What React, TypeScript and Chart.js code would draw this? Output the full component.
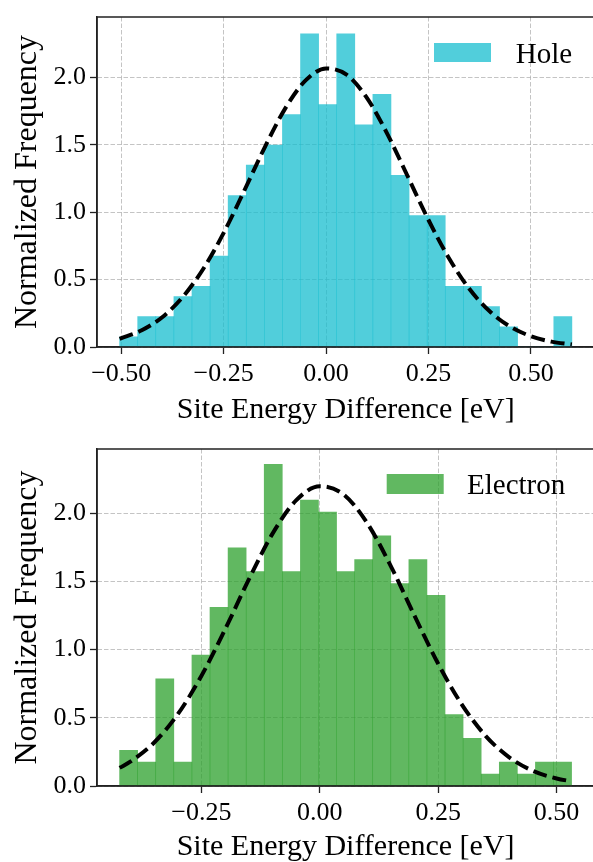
import React, { useEffect, useRef } from "react";
import { Chart, registerables } from "chart.js";

Chart.register(...registerables);

// ---------------- data ----------------
const HOLE_BIN_CENTERS = [
  -0.4819, -0.4378, -0.3936, -0.3494, -0.3053, -0.2611, -0.217, -0.1728, -0.1286, -0.0845,
  -0.0403, 0.0038, 0.048, 0.0922, 0.1363, 0.1805, 0.2246, 0.2688, 0.313, 0.3571,
  0.4013, 0.4454, 0.4896, 0.5338, 0.5779,
];
const HOLE_DENSITY = [
  0.075, 0.225, 0.225, 0.375, 0.45, 0.675, 1.125, 1.35, 1.5, 1.725,
  2.325, 1.8, 2.325, 1.65, 1.875, 1.275, 0.975, 0.975, 0.45, 0.45,
  0.3, 0.15, 0, 0, 0.225,
];
const HOLE_FIT_X = [
  -0.504, -0.45, -0.4, -0.35, -0.3, -0.25, -0.2, -0.15, -0.1, -0.05, 0, 0.05,
  0.1, 0.15, 0.2, 0.25, 0.3, 0.35, 0.4, 0.45, 0.5, 0.55, 0.6,
];
const HOLE_FIT_Y = [
  0.061, 0.124, 0.221, 0.371, 0.579, 0.847, 1.159, 1.481, 1.77, 1.979, 2.068, 2.022,
  1.848, 1.579, 1.262, 0.943, 0.659, 0.43, 0.263, 0.15, 0.08, 0.04, 0.019,
];

const ELECTRON_BIN_CENTERS = [
  -0.4035, -0.3654, -0.3272, -0.289, -0.2508, -0.2127, -0.1745, -0.1363, -0.0982, -0.06,
  -0.0218, 0.0164, 0.0545, 0.0927, 0.1309, 0.169, 0.2072, 0.2454, 0.2835, 0.3217,
  0.3599, 0.3981, 0.4362, 0.4744, 0.5126,
];
const ELECTRON_DENSITY = [
  0.262, 0.175, 0.786, 0.175, 0.96, 1.31, 1.746, 1.571, 2.357, 1.571,
  2.095, 2.008, 1.571, 1.659, 1.833, 1.484, 1.659, 1.397, 0.524, 0.349,
  0.087, 0.175, 0.087, 0.175, 0.175,
];
const ELECTRON_FIT_X = [
  -0.4226, -0.4, -0.35, -0.3, -0.25, -0.2, -0.15, -0.1, -0.05, 0, 0.05,
  0.1, 0.15, 0.2, 0.25, 0.3, 0.35, 0.4, 0.45, 0.5, 0.5317,
];
const ELECTRON_FIT_Y = [
  0.133, 0.178, 0.317, 0.525, 0.806, 1.147, 1.512, 1.848, 2.093, 2.197, 2.138,
  1.928, 1.612, 1.248, 0.896, 0.597, 0.368, 0.21, 0.111, 0.055, 0.034,
];

const HOLE_X_TICKS = [-0.5, -0.25, 0, 0.25, 0.5];
const ELECTRON_X_TICKS = [-0.25, 0, 0.25, 0.5];
const Y_TICKS = [0, 0.5, 1.0, 1.5, 2.0];

const HOLE_X_RANGE = [-0.5592, 0.6552];
const ELECTRON_X_RANGE = [-0.4703, 0.5794];
const HOLE_Y_MAX = 2.45;
const ELECTRON_Y_MAX = 2.47;

const X_TITLE = "Site Energy Difference [eV]";
const Y_TITLE = "Normalized Frequency";

// ---------------- styles ----------------
const SERIF = '"Liberation Serif", "Times New Roman", Times, serif';
const INK = "#222222";
const GRID = "rgba(176,176,176,0.75)";
const CANVAS_W = 600;
const CANVAS_H = 431;

function fmtTick(v: number, digits: number) {
  const s = Math.abs(v).toFixed(digits);
  return v < -1e-9 ? "\u2212" + s : s;
}

const framePlugin = {
  id: "frame",
  afterDatasetsDraw(chart: any) {
    const { ctx, chartArea } = chart;
    ctx.save();
    ctx.strokeStyle = INK;
    ctx.lineWidth = 1.5;
    ctx.strokeRect(chartArea.left, chartArea.top, chartArea.right - chartArea.left, chartArea.bottom - chartArea.top);
    ctx.restore();
  },
};

const histLegendPlugin = {
  id: "histLegend",
  afterDraw(chart: any, _args: any, opts: any) {
    const { ctx, chartArea } = chart;
    const ds = chart.data.datasets.find((d: any) => d.type === "bar");
    if (!ds) return;
    ctx.save();
    const rx = chartArea.right - opts.rectFromRight;
    const ry = chartArea.top + opts.rectFromTop;
    ctx.fillStyle = ds.backgroundColor;
    ctx.fillRect(rx, ry, opts.rectW, opts.rectH);
    ctx.fillStyle = "#000";
    ctx.font = `${opts.fontSize}px ${SERIF}`;
    ctx.textBaseline = "alphabetic";
    ctx.textAlign = "left";
    ctx.fillText(ds.label, chartArea.right - opts.textFromRight, chartArea.top + opts.baselineFromTop);
    ctx.restore();
  },
};

type PanelProps = {
  label: string;
  color: string;
  centers: number[];
  density: number[];
  fitX: number[];
  fitY: number[];
  xTicks: number[];
  xRange: number[];
  yMax: number;
  padTop: number;
  padRight: number;
  xAxisHeight: number;
  titlePadBottom: number;
  legend: any;
  top: number;
};

function HistPanel(p: PanelProps) {
  const ref = useRef<HTMLCanvasElement | null>(null);

  useEffect(() => {
    if (!ref.current) return;
    const chart = new Chart(ref.current, {
      type: "bar",
      data: {
        datasets: [
          {
            type: "line",
            label: "fit",
            data: p.fitX.map((x, i) => ({ x, y: p.fitY[i] })),
            borderColor: "#000",
            borderWidth: 4,
            borderDash: [14, 6],
            borderCapStyle: "butt",
            pointRadius: 0,
            fill: false,
            cubicInterpolationMode: "monotone",
            order: 0,
          } as any,
          {
            type: "bar",
            label: p.label,
            data: p.centers.map((x, i) => ({ x, y: p.density[i] })),
            backgroundColor: p.color,
            borderWidth: 0,
            barPercentage: 1,
            categoryPercentage: 1,
            order: 1,
          } as any,
        ],
      },
      options: {
        responsive: false,
        maintainAspectRatio: false,
        animation: false,
        layout: { padding: { top: p.padTop, right: p.padRight, left: 0, bottom: 0 } },
        plugins: {
          legend: { display: false },
          tooltip: { enabled: false },
          histLegend: p.legend,
        } as any,
        scales: {
          x: {
            type: "linear",
            min: p.xRange[0],
            max: p.xRange[1],
            offset: false,
            afterBuildTicks: (s: any) => {
              s.ticks = p.xTicks.map((v) => ({ value: v }));
            },
            afterFit: (s: any) => {
              s.height = p.xAxisHeight;
            },
            ticks: {
              autoSkip: false,
              maxRotation: 0,
              minRotation: 0,
              padding: 7,
              color: "#000",
              font: { family: SERIF, size: 26, lineHeight: 1 },
              callback: (v: any) => fmtTick(Number(v), 2),
            },
            grid: {
              offset: false,
              color: GRID,
              lineWidth: 1,
              drawTicks: true,
              tickLength: 7,
              tickColor: INK,
              tickWidth: 1.3,
            },
            border: { display: true, color: INK, width: 1.5, dash: [4.5, 2] },
            title: {
              display: true,
              text: X_TITLE,
              color: "#000",
              font: { family: SERIF, size: 30, lineHeight: 1 },
              padding: { top: 0, bottom: p.titlePadBottom },
            },
          },
          y: {
            type: "linear",
            min: 0,
            max: p.yMax,
            afterBuildTicks: (s: any) => {
              s.ticks = Y_TICKS.map((v) => ({ value: v }));
            },
            afterFit: (s: any) => {
              s.width = 97;
            },
            ticks: {
              autoSkip: false,
              padding: 4,
              color: "#000",
              font: { family: SERIF, size: 26, lineHeight: 1 },
              callback: (v: any) => fmtTick(Number(v), 1),
            },
            grid: {
              color: GRID,
              lineWidth: 1,
              drawTicks: true,
              tickLength: 7,
              tickColor: INK,
              tickWidth: 1.3,
            },
            border: { display: true, color: INK, width: 1.5, dash: [4.5, 2] },
            title: {
              display: true,
              text: Y_TITLE,
              color: "#000",
              font: { family: SERIF, size: 32, lineHeight: 1 },
              padding: { top: 12, bottom: 0 },
            },
          },
        },
      } as any,
      plugins: [framePlugin, histLegendPlugin],
    });
    return () => chart.destroy();
  }, []);

  return (
    <canvas
      ref={ref}
      width={CANVAS_W}
      height={CANVAS_H}
      style={{ position: "absolute", left: 0, top: p.top, width: CANVAS_W, height: CANVAS_H }}
    />
  );
}

export default function App() {
  return (
    <div
      style={{
        position: "fixed",
        left: 0,
        top: 0,
        width: 593,
        height: 862,
        overflow: "hidden",
        background: "#fff",
      }}
    >
      <HistPanel
        label="Hole"
        color="rgba(23,190,207,0.75)"
        centers={HOLE_BIN_CENTERS}
        density={HOLE_DENSITY}
        fitX={HOLE_FIT_X}
        fitY={HOLE_FIT_Y}
        xTicks={HOLE_X_TICKS}
        xRange={HOLE_X_RANGE}
        yMax={HOLE_Y_MAX}
        padTop={10}
        padRight={5.5}
        xAxisHeight={84}
        titlePadBottom={6}
        legend={{ rectFromRight: 160.5, rectFromTop: 26, rectW: 57, rectH: 19, textFromRight: 78.8, baselineFromTop: 46, fontSize: 29 }}
        top={0}
      />
      <HistPanel
        label="Electron"
        color="rgba(44,160,44,0.75)"
        centers={ELECTRON_BIN_CENTERS}
        density={ELECTRON_DENSITY}
        fitX={ELECTRON_FIT_X}
        fitY={ELECTRON_FIT_Y}
        xTicks={ELECTRON_X_TICKS}
        xRange={ELECTRON_X_RANGE}
        yMax={ELECTRON_Y_MAX}
        padTop={18}
        padRight={5.8}
        xAxisHeight={76}
        titlePadBottom={0}
        legend={{ rectFromRight: 207.5, rectFromTop: 25, rectW: 57, rectH: 20, textFromRight: 127.2, baselineFromTop: 45.3, fontSize: 29 }}
        top={431}
      />
    </div>
  );
}
